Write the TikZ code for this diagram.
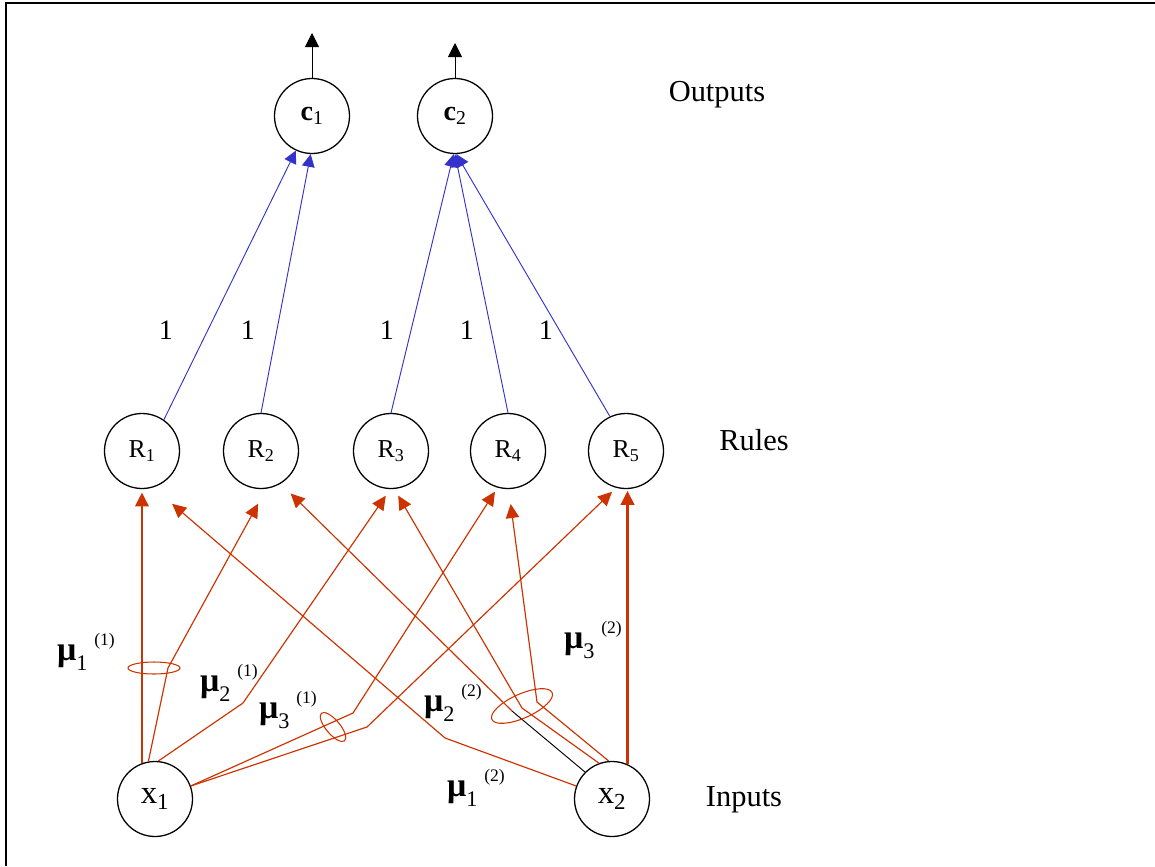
\documentclass[tikz,border=0pt]{standalone}
\usepackage{fontspec}
\setmainfont{Liberation Serif}
\usetikzlibrary{arrows.meta}
\definecolor{rulered}{RGB}{204,51,0}
\definecolor{outblue}{RGB}{51,51,204}
\newcommand{\mulbl}[2]{\textbf{μ}\raisebox{-0.3em}{\fontsize{19}{22}\selectfont #1}\hspace{0.2em}\raisebox{0.45em}{\fontsize{15}{18}\selectfont(#2)}}

\begin{document}
\begin{tikzpicture}[x=0.03cm, y=-0.03cm,
	unit/.style={circle, draw, line width=1.1pt, minimum size=2.25cm, inner sep=0pt, font=\fontsize{22}{26}\selectfont},
	memb/.style={color=rulered, line width=1pt, -{Triangle[length=0.42cm, width=0.4cm]}},
	membthick/.style={memb, line width=2.4pt},
	grp/.style={draw=rulered, line width=0.9pt},
	conc/.style={color=outblue, line width=0.8pt, -{Triangle[length=0.38cm, width=0.38cm]}},
	outarr/.style={line width=0.8pt, -{Triangle[length=0.42cm, width=0.42cm]}},
	layer/.style={font=\fontsize{26}{30}\selectfont},
	mu/.style={font=\fontsize{29}{32}\selectfont, inner sep=0pt},
	weight/.style={font=\fontsize{24}{28}\selectfont}]
	\useasboundingbox (0,0) rectangle (1155,866);
	\draw[line width=1.7pt] (6,866) -- (6,3) -- (1155,3);

	\node[unit, font=\fontsize{24}{28}\selectfont] (c1) at (312,116) {\textbf{c}\textsubscript{1}};
	\node[unit, font=\fontsize{24}{28}\selectfont] (c2) at (455,116) {\textbf{c}\textsubscript{2}};
	\node[unit] (R1) at (142,451) {R\textsubscript{1}};
	\node[unit] (R2) at (261,451) {R\textsubscript{2}};
	\node[unit] (R3) at (391,451) {R\textsubscript{3}};
	\node[unit] (R4) at (508,451) {R\textsubscript{4}};
	\node[unit] (R5) at (626,451) {R\textsubscript{5}};
	\node[unit, font=\fontsize{28}{32}\selectfont] (x1) at (155,799) {x\textsubscript{1}};
	\node[unit, font=\fontsize{28}{32}\selectfont] (x2) at (612,799) {x\textsubscript{2}};

	\node[layer] (outs) at (717,95) {Outputs};
	\node[layer] (rules) at (754,440) {Rules};
	\node[layer] (ins) at (744,800) {Inputs};

	\coordinate (y1) at (312,33);
	\coordinate (y2) at (455,43);
	\draw[outarr] (c1.north) -- (y1);
	\draw[outarr] (c2.north) -- (y2);

	\path[conc]
	(R1.55) edge (c1.245)
	(R2.north) edge (c1.268)
	(R3.north) edge (c2.268)
	(R4.north) edge (c2.270)
	(R5.115) edge (c2.272);
	\foreach \i/\xx in {1/166,2/248,3/387,4/467,5/546}
		\node[weight] (w\i) at (\xx,330) {1};

	\coordinate (k11) at (168,668);
	\coordinate (k21) at (243,703);
	\coordinate (k31a) at (353,713);
	\coordinate (k31b) at (367,727);
	\coordinate (k12) at (445,738);
	\coordinate (k22a) at (512,711);
	\coordinate (k22b) at (522,708);
	\coordinate (k22c) at (537,702);

	\draw[membthick, shorten >=0.1cm] (x1.110) -- (R1.south -| x1.110);
	\draw[memb, shorten >=0.51cm] (x1.100) -- (k11) -- (R2.-82);
	\draw[memb, shorten >=0.24cm] (x1.85) -- (k21) -- (R3.-91);
	\draw[memb, shorten >=0.14cm] (x1.20) -- (k31a) -- (R4.-106);
	\draw[memb, shorten >=0.17cm] (x1.20) -- (k31b) -- (R5.-105);

	\draw[memb, shorten >=0.75cm] (x2.160) -- (k12) -- (R1.-73);
	\draw[line width=0.8pt] (x2.135) -- (k22a);
	\draw[memb, shorten >=0.42cm] (k22a) -- (R2.-59);
	\draw[memb, shorten >=0.23cm] (x2.110) -- (k22b) -- (R3.-85);
	\draw[memb, shorten >=0.45cm] (x2.95) -- (k22c) -- (R4.-89);
	\draw[membthick, shorten >=0.05cm] (x2.66) -- (R5.south -| x2.66);

	\draw[grp] (154,668) ellipse [x radius=26, y radius=6];
	\draw[grp, rotate around={-50:(333,727)}] (333,727) ellipse [x radius=18, y radius=7];
	\draw[grp, rotate around={24:(522,706)}] (522,706) ellipse [x radius=33, y radius=12];

	\node[mu] (m11) at (86,652) {\mulbl{1}{1}};
	\node[mu] (m21) at (229,683) {\mulbl{2}{1}};
	\node[mu] (m31) at (288,710) {\mulbl{3}{1}};
	\node[mu] (m12) at (476,788) {\mulbl{1}{2}};
	\node[mu] (m22) at (453,703) {\mulbl{2}{2}};
	\node[mu] (m32) at (593,640) {\mulbl{3}{2}};
\end{tikzpicture}
\end{document}
